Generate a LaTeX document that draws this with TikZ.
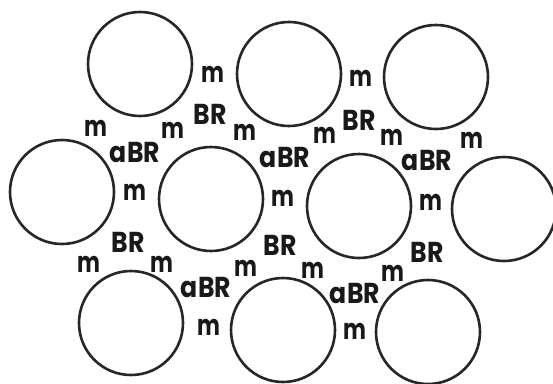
\documentclass[tikz,border=0pt]{standalone}
\usepackage{fontspec}
\setmainfont{Poppins}
\newcommand{\tallm}{\scalebox{0.9}[1.2]{m}}
\newcommand{\tallword}[1]{\scalebox{1.05}[1.2]{#1}}
\begin{document}
\begin{tikzpicture}[x=1pt,y=-1pt,
  grain/.style={circle,draw=black!85,line width=2.6pt,minimum size=104pt,inner sep=0pt},
  lbl/.style={font=\fontsize{24}{24}\selectfont\bfseries,inner sep=0pt,text=black!90}]
\useasboundingbox (0,0) rectangle (553,383);
% circles
\node[grain] (c1) at (140,64) {};
\node[grain] (c2) at (289,74) {};
\node[grain] (c3) at (436,77) {};
\node[grain] (c4) at (62,192) {};
\node[grain] (c5) at (211,199) {};
\node[grain] (c6) at (359,206) {};
\node[grain] (c7) at (504,209) {};
\node[grain] (c8) at (131,323) {};
\node[grain] (c9) at (283,330) {};
\node[grain] (c10) at (428,332) {};
% m labels
\node[lbl] (m1) at (213,74) {\tallm};
\node[lbl] (m2) at (96,128) {\tallm};
\node[lbl] (m3) at (173,130) {\tallm};
\node[lbl] (m4) at (245,132) {\tallm};
\node[lbl] (m5) at (135,192) {\tallm};
\node[lbl] (m6) at (361,78) {\tallm};
\node[lbl] (m7) at (325,135) {\tallm};
\node[lbl] (m8) at (392,137) {\tallm};
\node[lbl] (m9) at (472,140) {\tallm};
\node[lbl] (m10) at (431,202) {\tallm};
\node[lbl] (m11) at (283,198) {\tallm};
\node[lbl] (m12) at (89,264) {\tallm};
\node[lbl] (m13) at (162,264) {\tallm};
\node[lbl] (m14) at (246,268) {\tallm};
\node[lbl] (m15) at (209,327) {\tallm};
\node[lbl] (m16) at (313,270) {\tallm};
\node[lbl] (m17) at (393,273) {\tallm};
\node[lbl] (m18) at (355,331) {\tallm};
% BR labels
\node[lbl] (b1) at (210,114) {\tallword{BR}};
\node[lbl] (b2) at (359,120) {\tallword{BR}};
\node[lbl] (b3) at (128,242) {\tallword{BR}};
\node[lbl] (b4) at (280,245) {\tallword{BR}};
\node[lbl] (b5) at (427,252) {\tallword{BR}};
% aBR labels
\node[lbl] (a1) at (135,153) {\tallword{aBR}};
\node[lbl] (a2) at (285,158) {\tallword{aBR}};
\node[lbl] (a3) at (427,161) {\tallword{aBR}};
\node[lbl] (a4) at (206,287) {\tallword{aBR}};
\node[lbl] (a5) at (355,293) {\tallword{aBR}};
\end{tikzpicture}
\end{document}
